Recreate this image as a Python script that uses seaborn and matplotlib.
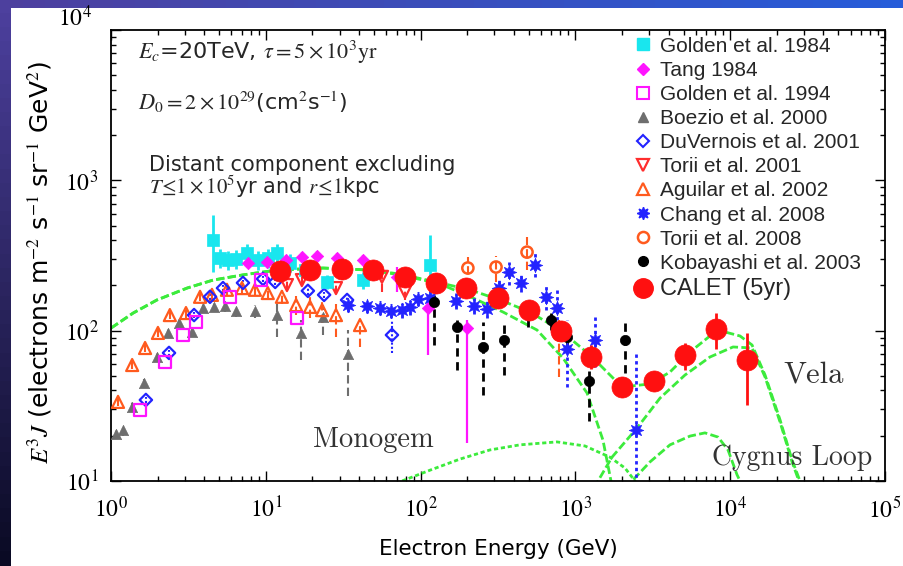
import numpy as np
import matplotlib
matplotlib.use("Agg")
import matplotlib.pyplot as plt
import seaborn as sns
from matplotlib.lines import Line2D
from matplotlib.patches import Rectangle
from matplotlib.ticker import LogLocator, NullFormatter

# ---------------- data ----------------
golden84_E = [4.56, 5.06, 5.7, 6.42, 7.56, 8.9, 10.3, 11.8, 14.3, 17.9, 24.8, 42.5, 115]
golden84_J = [401, 305, 295, 300, 329, 295, 305, 329, 282, 253, 211, 217, 274]
golden84_lo = [246, 262, 255, 258, 285, 255, 262, 285, 245, 222, 188, 190, 168]
golden84_hi = [589, 350, 340, 345, 378, 340, 350, 378, 325, 290, 236, 245, 433]

tang_E = [7.67, 10.2, 13.5, 17.1, 21.4, 28.8, 42.5, 70.4, 112, 199]
tang_J = [282, 286, 295, 309, 314, 305, 295, 228, 142, 104]
tang_lo = [262, 266, 274, 287, 292, 283, 272, 181, 69, 18]
tang_hi = [303, 307, 318, 333, 338, 328, 320, 265, 153, 118]

golden94_E = [1.54, 2.23, 2.92, 3.54, 5.87, 9.31, 15.9]
golden94_J = [29.6, 61.9, 93.6, 114, 168, 217, 121]

boezio_E = [1.08, 1.2, 1.37, 1.63, 1.98, 2.33, 2.75, 3.33, 3.93, 4.63, 5.45, 6.42, 8.51, 11.8, 16.9, 23.4, 34]
boezio_J = [20.5, 21.8, 31.1, 44.9, 66.8, 96.6, 112, 98, 142, 144, 146, 135, 135, 127, 96.6, 123, 70]
boezio_lo = [19, 20, 29, 42, 62, 90, 104, 91, 131, 133, 134, 124, 122, 91, 64, 94, 37]
boezio_hi = [22, 23.5, 33.5, 48, 72, 104, 121, 106, 153, 156, 158, 147, 148, 160, 118, 148, 101]

duvernois_E = [1.68, 2.37, 3.44, 4.36, 5.29, 7.12, 9.59, 11.5, 18.7, 23.8, 33.5, 65.3]
duvernois_J = [34.6, 71.1, 127, 168, 192, 208, 221, 211, 184, 173, 160, 93.6]
duvernois_lo = [33, 68, 121, 160, 183, 198, 210, 200, 174, 164, 150, 71]
duvernois_hi = [36.3, 74.5, 133, 176, 201, 218, 232, 222, 194, 182, 170, 118]

torii01_E = [13.7, 17.1, 28.4, 56.3, 79.3]
torii01_J = [201, 217, 192, 228, 181]
torii01_lo = [186, 201, 176, 181, 160]
torii01_hi = [216, 233, 208, 265, 203]

aguilar_E = [1.11, 1.37, 1.66, 2.01, 2.4, 3.05, 3.76, 4.49, 5.61, 7.02, 8.51, 10.3, 12.7, 15.7, 19.3, 23.1, 28.4, 40.6]
aguilar_J = [33.6, 59.1, 76.7, 96.6, 127, 131, 168, 173, 187, 192, 187, 178, 168, 148, 144, 137, 127, 109]
aguilar_lo = [31.5, 55.5, 72, 90.5, 119, 122, 157, 161, 174, 178, 172, 162, 150, 128, 122, 113, 91, 78]
aguilar_hi = [35.8, 63, 81.5, 103, 135, 140, 179, 185, 200, 206, 203, 195, 186, 170, 168, 163, 150, 118]

chang_E = [34, 45.1, 54.7, 64.4, 75.8, 85.4, 96.2, 115, 169, 221, 269, 321, 372, 445, 548, 646, 760, 883, 1339, 2461]
chang_J = [148, 146, 142, 135, 137, 144, 163, 165, 158, 146, 139, 192, 246, 208, 274, 168, 142, 75.5, 86.7, 21.8]
chang_lo = [133, 131, 127, 121, 122, 128, 146, 147, 140, 129, 122, 168, 201, 181, 228, 137, 118, 42.2, 57.3, 9.5]
chang_hi = [163, 161, 157, 150, 152, 160, 181, 184, 177, 165, 158, 217, 286, 235, 329, 201, 195, 118, 127, 72.1]

torii08_E = [202, 307, 487, 783]
torii08_J = [261, 265, 333, 93.6]
torii08_lo = [195, 211, 253, 49.2]
torii08_hi = [309, 314, 420, 118]

kobayashi_E = [122, 172, 253, 346, 494, 695, 883, 1224, 2090]
kobayashi_J = [155, 106, 77.9, 86.7, 131, 118, 90.8, 46.3, 86.7]
kobayashi_lo = [80, 54.8, 37.3, 50.7, 106, 101, 80, 25, 52.3]
kobayashi_hi = [173, 123, 114, 112, 155, 131, 101, 66, 112]

calet_E = [12.4, 19.3, 31.1, 49.3, 79.3, 126, 196, 316, 501, 807, 1261, 2000, 3220, 5105, 8090, 12850]
calet_J = [250, 253, 257, 253, 228, 208, 192, 165, 137, 99.5, 66.8, 42.2, 46.3, 68.9, 103, 63.8]
calet_lo = [238, 241, 244, 240, 216, 197, 181, 155, 128, 91, 56, 36.2, 40.3, 54.8, 75.5, 32.1]
calet_hi = [262, 265, 270, 266, 240, 219, 203, 175, 146, 108, 80.3, 49.2, 52.3, 82.8, 131, 96.6]

# model curves
distant_E = [1.0, 1.39, 1.98, 3.1, 4.56, 7.12, 11.8, 23.4, 47.1, 73.6, 133, 218, 341, 565, 831, 1189, 1507, 1698, 1760]
distant_J = [104, 131, 160, 192, 217, 235, 253, 261, 253, 235, 205, 165, 133, 101, 65.8, 38.5, 18.7, 10, 8]
total_E = [1.0, 1.39, 1.98, 3.1, 4.56, 7.12, 11.8, 23.4, 47.1, 73.6, 133, 208, 326, 509, 795, 1242, 1802,
           2321, 3034, 4085, 5500, 7400, 9250, 11570, 13840, 16790, 20990, 25090, 28230, 29000]
total_J = [104, 131, 160, 192, 217, 235, 253, 261, 253, 238, 208, 187, 160, 133, 101, 68.9, 47,
           42.9, 44.2, 53.1, 72.1, 92.2, 98, 92.2, 80.3, 50.7, 25.5, 13.8, 10, 9]
vela_E = [1320, 1400, 1723, 2500, 3521, 5105, 7400, 10430, 13840, 16790, 20990, 25090, 27800, 28500]
vela_J = [9, 10, 14.4, 22.5, 35.6, 50.7, 66.8, 77.9, 76.7, 49.2, 24.7, 13.4, 10, 9]
cygnus_E = [2100, 2321, 3034, 4085, 5500, 6871, 8340, 9680, 11070, 11570, 11800]
cygnus_J = [9, 10, 13.4, 17.4, 19.9, 20.9, 19.6, 16.1, 11, 10, 9]
monogem_E = [70, 75.8, 115, 180, 281, 439, 760, 1153, 1672, 2090, 2427, 2550]
monogem_J = [9.4, 10, 11.8, 14, 16.1, 17.4, 18.2, 17.1, 14.4, 12.2, 10, 9.3]

x_ticks = [1e0, 1e1, 1e2, 1e3, 1e4, 1e5]
x_ticklabels = [r"$10^{0}$", r"$10^{1}$", r"$10^{2}$", r"$10^{3}$", r"$10^{4}$", r"$10^{5}$"]
y_ticks = [1e1, 1e2, 1e3, 1e4]
y_ticklabels = [r"$10^{1}$", r"$10^{2}$", r"$10^{3}$", r"$10^{4}$"]

# ---------------- style ----------------
sns.set_theme(style="ticks")
plt.rcParams["font.family"] = ["DejaVu Sans"]
plt.rcParams["mathtext.fontset"] = "stix"

CYAN = "#19e6ee"
MAG = "#ff14ff"
GRAY = "#6e6e6e"
BLUE = "#2323ff"
RED2 = "#ff2d2d"
ORANGE = "#ff5a1e"
RED = "#ff1010"
GREEN = "#3ceb3c"

# tiny epsilon so the canvas is exactly 903 x 566 px after integer truncation
fig = plt.figure(figsize=(9.031, 5.661), dpi=100, facecolor="white")
FW, FH = 9.031 * 100, 5.661 * 100

# slide frame: thin gradient strips on the left and top edges
n_steps = 40
for i in range(n_steps):
    f = i / (n_steps - 1)
    col_left = (0.30 * (1 - f) + 0.04 * f, 0.25 * (1 - f) + 0.04 * f, 0.62 * (1 - f) + 0.14 * f)
    fig.patches.append(Rectangle((0, 1 - (i + 1) / n_steps), 11 / FW, 1 / n_steps + 0.002,
                                 transform=fig.transFigure, facecolor=col_left, edgecolor="none", zorder=-5))
    col_top = (0.30 * (1 - f) + 0.15 * f, 0.25 * (1 - f) + 0.36 * f, 0.62 * (1 - f) + 0.85 * f)
    fig.patches.append(Rectangle((i / n_steps, 1 - 8 / FH), 1 / n_steps + 0.002, 8 / FH,
                                 transform=fig.transFigure, facecolor=col_top, edgecolor="none", zorder=-5))

ax = fig.add_axes([111 / FW, 85 / FH, 774 / FW, 451 / FH])
ax.set_facecolor("white")
ax.set_xscale("log")
ax.set_yscale("log")

# ---------------- model curves ----------------
def curve(E, J, dashes, lw=2.0):
    sns.lineplot(x=E, y=J, ax=ax, color=GREEN, linewidth=lw, estimator=None, sort=False, zorder=2)
    ax.get_lines()[-1].set_dashes(dashes)

curve(total_E, total_J, [3, 1.2])
curve(distant_E, distant_J, [3, 1.2])
curve(vela_E, vela_J, [3, 1.2])
curve(cygnus_E, cygnus_J, [3, 1.2])
curve(monogem_E, monogem_J, [1.5, 1.0])

# ---------------- data points ----------------
def errs(E, J, lo, hi, color, ls="-", lw=1.5, z=3):
    J = np.asarray(J, float)
    yerr = [J - np.asarray(lo, float), np.asarray(hi, float) - J]
    eb = ax.errorbar(E, J, yerr=yerr, fmt="none", ecolor=color, elinewidth=lw, capsize=0, zorder=z)
    eb[2][0].set_linestyle(ls)

def pts(E, J, marker, color, size, filled=True, lw=1.5, z=4):
    if filled:
        sns.scatterplot(x=E, y=J, ax=ax, marker=marker, s=size, color=color,
                        edgecolor=color, linewidth=0.5, legend=False, zorder=z)
    else:
        sns.scatterplot(x=E, y=J, ax=ax, marker=marker, s=size, color=color,
                        facecolors="none", edgecolor=color, linewidth=lw, legend=False, zorder=z)

errs(boezio_E, boezio_J, boezio_lo, boezio_hi, GRAY, ls=(0, (4, 2)))
pts(boezio_E, boezio_J, "^", GRAY, 55)

errs(aguilar_E, aguilar_J, aguilar_lo, aguilar_hi, ORANGE, ls=(0, (4, 2)))
pts(aguilar_E, aguilar_J, "^", ORANGE, 75, filled=False, lw=1.6)

errs(duvernois_E, duvernois_J, duvernois_lo, duvernois_hi, BLUE, ls=(0, (1, 1)))
pts(duvernois_E, duvernois_J, "D", BLUE, 40, filled=False, lw=1.6)

pts(golden94_E, golden94_J, "s", MAG, 70, filled=False, lw=1.6)

errs(torii01_E, torii01_J, torii01_lo, torii01_hi, RED2, ls=(0, (4, 2)))
pts(torii01_E, torii01_J, "v", RED2, 75, filled=False, lw=1.6)

errs(golden84_E, golden84_J, golden84_lo, golden84_hi, CYAN, lw=2.0)
pts(golden84_E, golden84_J, "s", CYAN, 70)

errs(tang_E, tang_J, tang_lo, tang_hi, MAG, lw=1.6)
pts(tang_E, tang_J, "D", MAG, 40)

errs(chang_E, chang_J, chang_lo, chang_hi, BLUE, ls=(0, (1.2, 1.2)), lw=2.0)
pts(chang_E, chang_J, (8, 1, 0), BLUE, 110)

errs(torii08_E, torii08_J, torii08_lo, torii08_hi, ORANGE, ls=(0, (4, 2)))
pts(torii08_E, torii08_J, "o", ORANGE, 65, filled=False, lw=1.8)

errs(kobayashi_E, kobayashi_J, kobayashi_lo, kobayashi_hi, "black", ls=(0, (3, 2)), lw=2.0)
pts(kobayashi_E, kobayashi_J, "o", "black", 55)

errs(calet_E, calet_J, calet_lo, calet_hi, RED, lw=2.0, z=5)
pts(calet_E, calet_J, "o", RED, 230, z=6)

# ---------------- axes ----------------
ax.set_xlim(1, 1e5)
ax.set_ylim(10, 1e4)
ax.set_xticks(x_ticks)
ax.set_xticklabels(x_ticklabels)
ax.set_yticks(y_ticks)
ax.set_yticklabels(y_ticklabels[:-1] + [""])
ax.xaxis.set_minor_locator(LogLocator(base=10, subs=np.arange(2, 10), numticks=30))
ax.yaxis.set_minor_locator(LogLocator(base=10, subs=np.arange(2, 10), numticks=30))
ax.xaxis.set_minor_formatter(NullFormatter())
ax.yaxis.set_minor_formatter(NullFormatter())
ax.tick_params(which="both", direction="in", top=True, right=True, colors="black", width=1.0)
ax.tick_params(which="major", length=7, labelsize=17)
ax.tick_params(axis="x", which="major", pad=11)
ax.tick_params(axis="y", which="major", pad=9)
ax.tick_params(which="minor", length=3.5)
for sp in ax.spines.values():
    sp.set_visible(True)
    sp.set_color("black")
    sp.set_linewidth(1.3)
# top y label sits a little above its tick in the reference
ax.text(-(9 * 100 / 72 + 7) / 774, (481 - 18) / 451, y_ticklabels[-1], transform=ax.transAxes,
        ha="right", va="center", fontsize=17, color="black")

ax.set_xlabel("Electron Energy (GeV)", fontsize=15.5, labelpad=12, color="black")
ax.set_ylabel("")
fig.text(40 / FW, (FH - 262) / FH,
         r"$E^3J$ (electrons m$^{-2}$ s$^{-1}$ sr$^{-1}$ GeV$^{2}$)",
         rotation=90, ha="center", va="center", fontsize=18, color="black")

# ---------------- annotations ----------------
ax.text(0.035, 0.951, r"$E_c$=20TeV, $\tau\mathrm{=5\times10^3yr}$", transform=ax.transAxes,
        fontsize=16, va="center", ha="left")
ax.text(0.035, 0.840, r"$D_0\mathrm{=2\times10^{29}}$(cm$^2$s$^{-1}$)", transform=ax.transAxes,
        fontsize=16, va="center", ha="left")
ax.text(0.049, 0.701, "Distant component excluding", transform=ax.transAxes,
        fontsize=15, va="center", ha="left")
ax.text(0.049, 0.652, r"$T\!\leq\!\mathrm{1\times10^5}$yr and $r\!\leq\!\mathrm{1}$kpc", transform=ax.transAxes,
        fontsize=15, va="center", ha="left")
ax.text((313 - 111) / 774, (481 - 440) / 451, "Monogem", transform=ax.transAxes,
        fontsize=20.5, family="cmr10", va="center", ha="left", color="#333333")
ax.text((783 - 111) / 774, (481 - 375) / 451, "Vela", transform=ax.transAxes,
        fontsize=22, family="cmr10", va="center", ha="left", color="#333333")
ax.text((712 - 111) / 774, (481 - 458) / 451, "Cygnus Loop", transform=ax.transAxes,
        fontsize=20, family="cmr10", va="center", ha="left", color="#333333")

# ---------------- legend ----------------
handles = [
    Line2D([], [], ls="none", marker="s", ms=8, mfc=CYAN, mec=CYAN),
    Line2D([], [], ls="none", marker="D", ms=6, mfc=MAG, mec=MAG),
    Line2D([], [], ls="none", marker="s", ms=8, mfc="none", mec=MAG, mew=1.5),
    Line2D([], [], ls="none", marker="^", ms=7, mfc=GRAY, mec=GRAY),
    Line2D([], [], ls="none", marker="D", ms=6, mfc="none", mec=BLUE, mew=1.5),
    Line2D([], [], ls="none", marker="v", ms=8, mfc="none", mec=RED2, mew=1.6),
    Line2D([], [], ls="none", marker="^", ms=8, mfc="none", mec=ORANGE, mew=1.6),
    Line2D([], [], ls="none", marker=(8, 1, 0), ms=9, mfc=BLUE, mec=BLUE),
    Line2D([], [], ls="none", marker="o", ms=8, mfc="none", mec=ORANGE, mew=1.8),
    Line2D([], [], ls="none", marker="o", ms=7, mfc="black", mec="black"),
    Line2D([], [], ls="none", marker="o", ms=14, mfc=RED, mec=RED),
]
labels = ["Golden et al. 1984", "Tang 1984", "Golden et al. 1994", "Boezio et al. 2000",
          "DuVernois et al. 2001", "Torii et al. 2001", "Aguilar et al. 2002", "Chang et al. 2008",
          "Torii et al. 2008", "Kobayashi et al. 2003", "CALET (5yr)"]
leg = ax.legend(handles, labels, loc="upper left", bbox_to_anchor=((632.6 - 111) / 774, 0.985),
                frameon=False, borderpad=0, borderaxespad=0, handlelength=1.0, handletextpad=0.32,
                labelspacing=0.245, prop={"family": "Liberation Sans", "size": 15})
leg.get_texts()[-1].set_fontsize(17)
leg.set_zorder(10)

fig.savefig("out.png", dpi=100, facecolor="white")
